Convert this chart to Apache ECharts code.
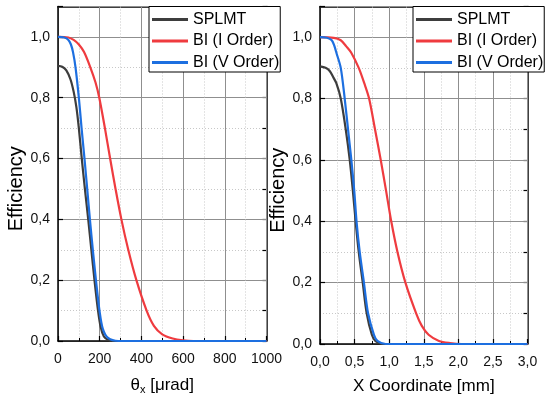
<!DOCTYPE html>
<html>
<head>
<meta charset="utf-8">
<script src="https://cdn.jsdelivr.net/npm/echarts@6/dist/echarts.min.js"></script>
<style>html,body{margin:0;padding:0;background:#fff}#c{width:548px;height:400px}</style>
</head>
<body>
<div id="c"></div>
<script>
// ---- Data (left panel: angle in µrad) ----
const thetaSplmt = [0, 20, 40, 60, 75, 88, 100, 114, 129, 145, 160, 175, 192, 205, 220, 240, 265, 1000];
const effSplmtL  = [0.905, 0.902, 0.890, 0.860, 0.820, 0.770, 0.700, 0.600, 0.500, 0.400, 0.300, 0.200, 0.100, 0.045, 0.015, 0.004, 0.0, 0.0];
const thetaBi1   = [0, 50, 75, 100, 125, 155, 180, 198, 225, 250, 276, 304, 337, 376, 425, 460, 500, 550, 600, 650, 1000];
const effBi1L    = [1.0, 0.998, 0.990, 0.975, 0.950, 0.900, 0.850, 0.800, 0.700, 0.600, 0.500, 0.400, 0.300, 0.200, 0.100, 0.050, 0.022, 0.008, 0.002, 0.0, 0.0];
const thetaBi5   = [0, 30, 50, 62, 72, 84, 100, 113, 127, 140, 153, 167, 182, 199, 215, 240, 290, 1000];
const effBi5L    = [1.0, 0.998, 0.990, 0.975, 0.950, 0.900, 0.800, 0.700, 0.600, 0.500, 0.400, 0.300, 0.200, 0.100, 0.040, 0.010, 0.0, 0.0];

// ---- Data (right panel: X coordinate in mm) ----
const xSplmt    = [0, 0.08, 0.14, 0.19, 0.236, 0.30, 0.372, 0.43, 0.475, 0.515, 0.56, 0.618, 0.675, 0.75, 0.80, 0.90, 3.0];
const effSplmtR = [0.905, 0.900, 0.890, 0.870, 0.850, 0.800, 0.700, 0.600, 0.500, 0.400, 0.300, 0.200, 0.100, 0.030, 0.010, 0.0, 0.0];
const xBi1      = [0, 0.2, 0.3, 0.38, 0.45, 0.56, 0.64, 0.71, 0.795, 0.878, 0.955, 1.03, 1.12, 1.235, 1.39, 1.47, 1.57, 1.72, 1.88, 2.05, 3.0];
const effBi1R   = [1.0, 0.998, 0.990, 0.970, 0.950, 0.900, 0.850, 0.800, 0.700, 0.600, 0.500, 0.400, 0.300, 0.200, 0.100, 0.060, 0.030, 0.010, 0.003, 0.0, 0.0];
const xBi5      = [0, 0.1, 0.17, 0.21, 0.236, 0.30, 0.357, 0.405, 0.453, 0.495, 0.528, 0.574, 0.635, 0.695, 0.78, 0.83, 0.95, 3.0];
const effBi5R   = [1.0, 0.998, 0.990, 0.970, 0.950, 0.900, 0.800, 0.700, 0.600, 0.500, 0.400, 0.300, 0.200, 0.100, 0.030, 0.010, 0.0, 0.0];

const seriesNames = ['SPLMT', 'BI (I Order)', 'BI (V Order)'];
const yTicks = [0, 0.2, 0.4, 0.6, 0.8, 1.0];

const colors = ['#3d3d3d', '#ef3b3f', '#1d6fe0'];
const FONT = 'Arial, "Liberation Sans", sans-serif';
const comma1 = v => v.toFixed(1).replace('.', ',');

function pairs(xs, ys) { return xs.map((x, i) => [x, ys[i]]); }

function xAxesFor(grid, max, interval, nameText, labelFmt) {
  return [{
    type: 'value', gridIndex: grid, position: 'bottom', min: 0, max: max, interval: interval,
    name: nameText, nameLocation: 'middle', nameGap: 34,
    nameTextStyle: { fontFamily: FONT, fontSize: 17, color: '#000', rich: {
      a: { fontFamily: FONT, fontSize: 17, color: '#000' },
      s: { fontFamily: FONT, fontSize: 11, color: '#000', verticalAlign: 'bottom', padding: [9, 0, 0, 0] }
    } },
    axisLine: { show: true, onZero: false, lineStyle: { color: '#000', width: 1.5 } },
    axisTick: { show: true, inside: true, length: 5, lineStyle: { color: '#000', width: 1.2 } },
    minorTick: { show: true, splitNumber: 2, length: 3, lineStyle: { color: '#000', width: 1 } },
    axisLabel: { fontFamily: FONT, fontSize: 14, color: '#111', margin: 11, formatter: labelFmt },
    splitLine: { show: true, lineStyle: { color: '#8f8f8f', width: 1 } },
    minorSplitLine: { show: true, lineStyle: { color: '#c8c8c8', width: 1, type: [1, 2] } },
    z: 3
  }, {
    type: 'value', gridIndex: grid, position: 'top', min: 0, max: max, interval: interval,
    axisLine: { show: true, onZero: false, lineStyle: { color: '#000', width: 1.5 } },
    axisTick: { show: false }, axisLabel: { show: false }, splitLine: { show: false }
  }];
}

function yAxesFor(grid) {
  return [{
    type: 'value', gridIndex: grid, position: 'left', min: 0, max: 1.1, interval: 0.2,
    name: 'Efficiency', nameLocation: 'middle', nameGap: 29,
    nameTextStyle: { fontFamily: FONT, fontSize: 20, color: '#000', padding: [0, 30, 0, 0] },
    axisLine: { show: true, onZero: false, lineStyle: { color: '#000', width: 1.5 } },
    axisTick: { show: true, inside: true, length: 5, lineStyle: { color: '#000', width: 1.2 } },
    axisLabel: { fontFamily: FONT, fontSize: 14, color: '#111', margin: 8,
      formatter: v => (yTicks.some(t => Math.abs(t - v) < 1e-6) ? comma1(v) : '') },
    splitLine: { show: true, lineStyle: { color: '#8f8f8f', width: 1 } },
    z: 3
  }, {
    type: 'value', gridIndex: grid, position: 'right', min: 0, max: 1.1, interval: 0.1,
    axisLine: { show: true, onZero: false, lineStyle: { color: '#000', width: 1.5 } },
    axisTick: { show: true, inside: true, length: 4, lineStyle: { color: '#000', width: 1.2 } },
    axisLabel: { show: false },
    splitLine: { show: true, lineStyle: { color: '#c8c8c8', width: 1, type: [1, 2] } },
    z: 2
  }];
}

const chart = echarts.init(document.getElementById('c'), null, { renderer: 'canvas' });

const xAxes = [
  ...xAxesFor(0, 1000, 200, '{a|θ}{s|x}{a| [μrad]}', v => String(v)),
  ...xAxesFor(1, 3, 0.5, 'X Coordinate [mm]', v => comma1(v))
];
const yAxes = [...yAxesFor(0), ...yAxesFor(1)];

function line(name, data, xi, yi, color) {
  return { type: 'line', name, data, xAxisIndex: xi, yAxisIndex: yi, showSymbol: false, symbol: 'none',
    smooth: 0.3, lineStyle: { color, width: 2.2 }, itemStyle: { color }, z: 4, clip: false };
}

const legendBase = {
  orient: 'vertical', top: 6.5, icon: 'rect', itemWidth: 36, itemHeight: 3, itemGap: 5.5,
  padding: [5, 1, 1.5, 3], backgroundColor: '#fff', borderColor: '#000', borderWidth: 1,
  textStyle: { fontFamily: FONT, fontSize: 16, color: '#000', lineHeight: 16 },
  data: seriesNames, selectedMode: false, z: 10
};

chart.setOption({
  animation: false,
  backgroundColor: '#fff',
  grid: [
    { left: 58, top: 6.5, width: 208.5, height: 340, containLabel: false },
    { left: 320, top: 6.5, width: 207.5, height: 340, containLabel: false }
  ],
  legend: [
    Object.assign({}, legendBase, { left: 149 }),
    Object.assign({}, legendBase, { left: 413 })
  ],
  xAxis: xAxes,
  yAxis: yAxes,
  series: [
    line(seriesNames[0], pairs(thetaSplmt, effSplmtL), 0, 0, colors[0]),
    line(seriesNames[1], pairs(thetaBi1, effBi1L), 0, 0, colors[1]),
    line(seriesNames[2], pairs(thetaBi5, effBi5L), 0, 0, colors[2]),
    line(seriesNames[0], pairs(xSplmt, effSplmtR), 2, 2, colors[0]),
    line(seriesNames[1], pairs(xBi1, effBi1R), 2, 2, colors[1]),
    line(seriesNames[2], pairs(xBi5, effBi5R), 2, 2, colors[2])
  ]
});
</script>
</body>
</html>
